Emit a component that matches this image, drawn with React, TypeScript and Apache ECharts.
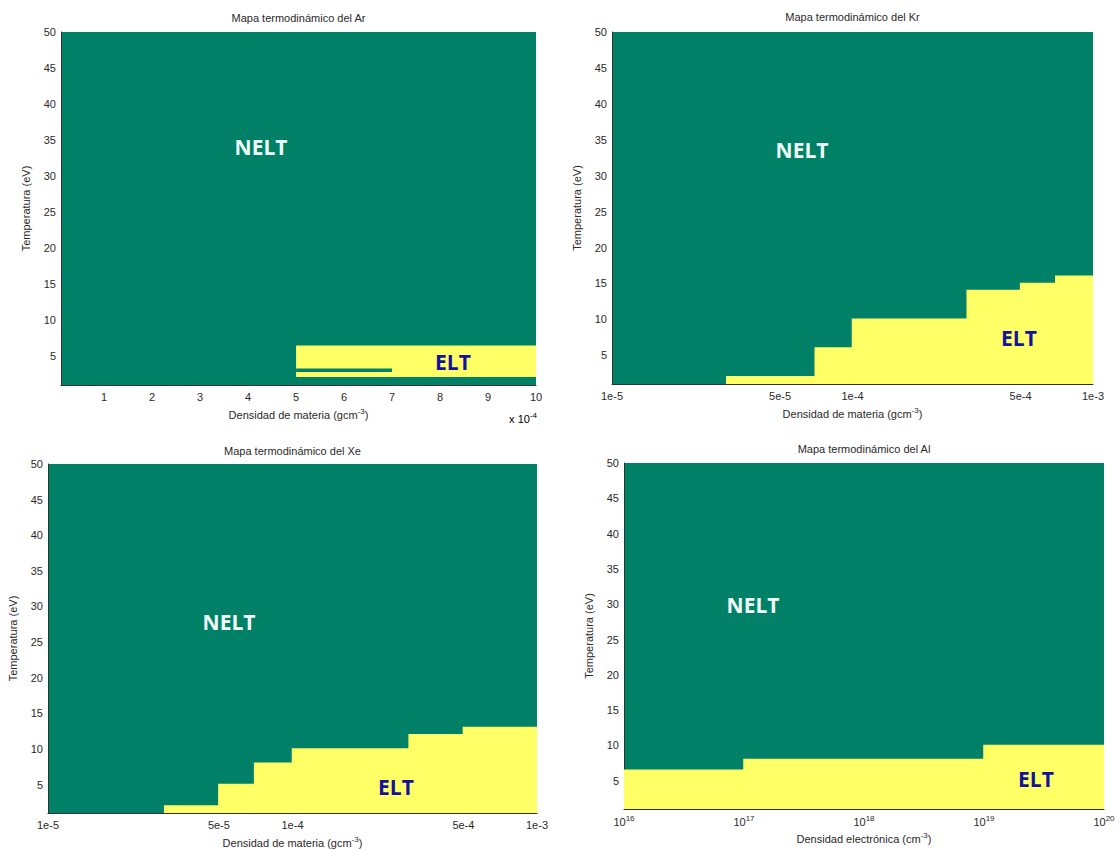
import React, { useEffect, useRef } from "react";
import * as echarts from "echarts";

// ---------------- data ----------------
const TEMP_MIN = 1;
const TEMP_MAX = 50;
const tempTicks = [5, 10, 15, 20, 25, 30, 35, 40, 45, 50];

const panelTitles = [
  "Mapa termodinámico del Ar",
  "Mapa termodinámico del Kr",
  "Mapa termodinámico del Xe",
  "Mapa termodinámico del Al",
];

// Ar (linear density axis, g/cm3)
const arDensityTicks = [1e-4, 2e-4, 3e-4, 4e-4, 5e-4, 6e-4, 7e-4, 8e-4, 9e-4, 1e-3];
// [density from, density to, T low, T high]
const arEltCells = [[5e-4, 1e-3, 2.1, 6.5]];
const arNeltCells = [[5e-4, 7e-4, 2.8, 3.3]];

// Kr and Xe (log density axis, g/cm3): step edges and ELT upper temperature
const krEdges = [3e-5, 7e-5, 1e-4, 3e-4, 5e-4, 7e-4, 1e-3];
const krTemps = [2, 6, 10, 14, 15, 16];
const xeEdges = [3e-5, 5e-5, 7e-5, 1e-4, 3e-4, 5e-4, 1e-3];
const xeTemps = [2, 5, 8, 10, 12, 13];
const gasDensityTicks = [1e-5, 5e-5, 1e-4, 5e-4, 1e-3];
const gasDensityLabels = ["1e-5", "5e-5", "1e-4", "5e-4", "1e-3"];

// Al (log electron density axis, cm-3)
const alEdges = [1e16, 1e17, 1e19, 1e20];
const alTemps = [6.5, 8, 10];
const alDensityTicks = [1e16, 1e17, 1e18, 1e19, 1e20];

// ---------------- styles ----------------
const GREEN = "#008066";
const YELLOW = "#ffff66";
const FONT = "'Liberation Sans', Arial, sans-serif";
const LABEL_FONT = "'Open Sans', 'Noto Sans', sans-serif";
const TXT = "#2a2a2a";

const grids = [
  { left: 61, top: 32, width: 475, height: 353 },
  { left: 612, top: 32, width: 481, height: 352 },
  { left: 48, top: 464, width: 489, height: 349 },
  { left: 624, top: 463, width: 480, height: 346 },
];
const titleTops = [12, 11, 445, 443];

const stepCells = (edges: number[], temps: number[]) =>
  temps.map((t, i) => [edges[i], edges[i + 1], TEMP_MIN, t]);

const supRich = {
  n: { fontSize: 11, lineHeight: 16, color: TXT, fontFamily: FONT },
  sup: { fontSize: 8, lineHeight: 16, verticalAlign: "top", color: TXT, fontFamily: FONT },
};

function rectSeries(idx: number, data: number[][], fill: string, seam: number) {
  return {
    type: "custom",
    xAxisIndex: idx,
    yAxisIndex: idx,
    clip: true,
    silent: true,
    data,
    encode: { x: [0, 1], y: [2, 3] },
    renderItem: (_p: any, api: any) => {
      const a = api.coord([api.value(0), api.value(3)]);
      const b = api.coord([api.value(1), api.value(2)]);
      return {
        type: "rect",
        shape: { x: a[0], y: a[1], width: b[0] - a[0], height: b[1] - a[1] },
        style: seam > 0 ? { fill, stroke: fill, lineWidth: seam } : { fill, stroke: null },
      };
    },
  };
}

function regionLabel(x: number, y: number, text: string, color: string) {
  return {
    type: "text",
    x,
    y,
    z: 100,
    style: {
      text,
      fill: color,
      font: `bold 21px ${LABEL_FONT}`,
      align: "center",
      verticalAlign: "middle",
      textAlign: "center",
      textVerticalAlign: "middle",
    },
  };
}

export default function App() {
  const ref = useRef<HTMLDivElement>(null);

  useEffect(() => {
    if (!ref.current) return;
    const chart = echarts.init(ref.current, null, { renderer: "svg" });

    const axisLine = { show: true, lineStyle: { color: "#333", width: 1 } };
    const tickLabelStyle = { fontSize: 11, color: TXT, fontFamily: FONT };

    const yAxes = grids.map((_, i) => ({
      type: "value",
      gridIndex: i,
      min: TEMP_MIN,
      max: TEMP_MAX,
      axisLine,
      axisTick: { show: false },
      splitLine: { show: false },
      axisLabel: { ...tickLabelStyle, customValues: tempTicks, margin: 5 },
      name: "Temperatura (eV)",
      nameLocation: "middle",
      nameGap: 30,
      nameTextStyle: { fontSize: 11, color: TXT, fontFamily: FONT },
    }));

    const gasLabel = (v: number) => {
      const k = gasDensityTicks.findIndex((t) => Math.abs(v - t) / t < 1e-6);
      return k >= 0 ? gasDensityLabels[k] : "";
    };

    const nameCommon = {
      nameLocation: "middle",
      nameGap: 22,
      nameTextStyle: { rich: supRich },
    };

    const xAxes = [
      {
        type: "value",
        gridIndex: 0,
        min: 1e-5,
        max: 1e-3,
        axisLine,
        axisTick: { show: false },
        splitLine: { show: false },
        axisLabel: {
          ...tickLabelStyle,
          margin: 6,
          customValues: arDensityTicks,
          formatter: (v: number) => String(Math.round(v / 1e-4)),
        },
        ...nameCommon,
        name: "{n|Densidad de materia (gcm}{sup|-3}{n|)}",
      },
      {
        type: "log",
        logBase: 10,
        gridIndex: 1,
        min: 1e-5,
        max: 1e-3,
        axisLine,
        axisTick: { show: false },
        splitLine: { show: false },
        axisLabel: { ...tickLabelStyle, margin: 6, customValues: gasDensityTicks, formatter: gasLabel },
        ...nameCommon,
        name: "{n|Densidad de materia (gcm}{sup|-3}{n|)}",
      },
      {
        type: "log",
        logBase: 10,
        gridIndex: 2,
        min: 1e-5,
        max: 1e-3,
        axisLine,
        axisTick: { show: false },
        splitLine: { show: false },
        axisLabel: { ...tickLabelStyle, margin: 6, customValues: gasDensityTicks, formatter: gasLabel },
        ...nameCommon,
        name: "{n|Densidad de materia (gcm}{sup|-3}{n|)}",
      },
      {
        type: "log",
        logBase: 10,
        gridIndex: 3,
        min: 1e16,
        max: 1e20,
        axisLine,
        axisTick: { show: false },
        splitLine: { show: false },
        axisLabel: {
          margin: 5,
          customValues: alDensityTicks,
          formatter: (v: number) => `{n|10}{sup|${Math.round(Math.log10(v))}}`,
          rich: supRich,
        },
        ...nameCommon,
        name: "{n|Densidad electrónica (cm}{sup|-3}{n|)}",
      },
    ];

    chart.setOption({
      animation: false,
      backgroundColor: "#ffffff",
      title: panelTitles.map((t, i) => ({
        text: t,
        left: grids[i].left + grids[i].width / 2,
        top: titleTops[i],
        textAlign: "center",
        padding: 0,
        textStyle: { fontSize: 11, fontWeight: "normal", color: TXT, fontFamily: FONT },
      })),
      grid: grids.map((g) => ({
        ...g,
        show: true,
        backgroundColor: GREEN,
        borderWidth: 0,
        containLabel: false,
      })),
      xAxis: xAxes,
      yAxis: yAxes,
      series: [
        rectSeries(0, arEltCells, YELLOW, 0),
        rectSeries(0, arNeltCells, GREEN, 0),
        rectSeries(1, stepCells(krEdges, krTemps), YELLOW, 1.5),
        rectSeries(2, stepCells(xeEdges, xeTemps), YELLOW, 1.5),
        rectSeries(3, stepCells(alEdges, alTemps), YELLOW, 1.5),
      ],
      graphic: [
        regionLabel(261, 147, "NELT", "#effff8"),
        regionLabel(453, 362, "ELT", "#12129c"),
        regionLabel(802, 150, "NELT", "#effff8"),
        regionLabel(1019, 338, "ELT", "#12129c"),
        regionLabel(229, 622, "NELT", "#effff8"),
        regionLabel(396, 787, "ELT", "#12129c"),
        regionLabel(753, 605, "NELT", "#effff8"),
        regionLabel(1036, 779, "ELT", "#12129c"),
        {
          type: "text",
          x: 537,
          y: 419,
          style: {
            text: "{n|x 10}{sup|-4}",
            rich: supRich,
            align: "right",
            verticalAlign: "middle",
            textAlign: "right",
            textVerticalAlign: "middle",
          },
        },
      ],
    });

    return () => chart.dispose();
  }, []);

  return (
    <div
      ref={ref}
      style={{ position: "absolute", left: 0, top: 0, width: 1119, height: 851 }}
    />
  );
}
